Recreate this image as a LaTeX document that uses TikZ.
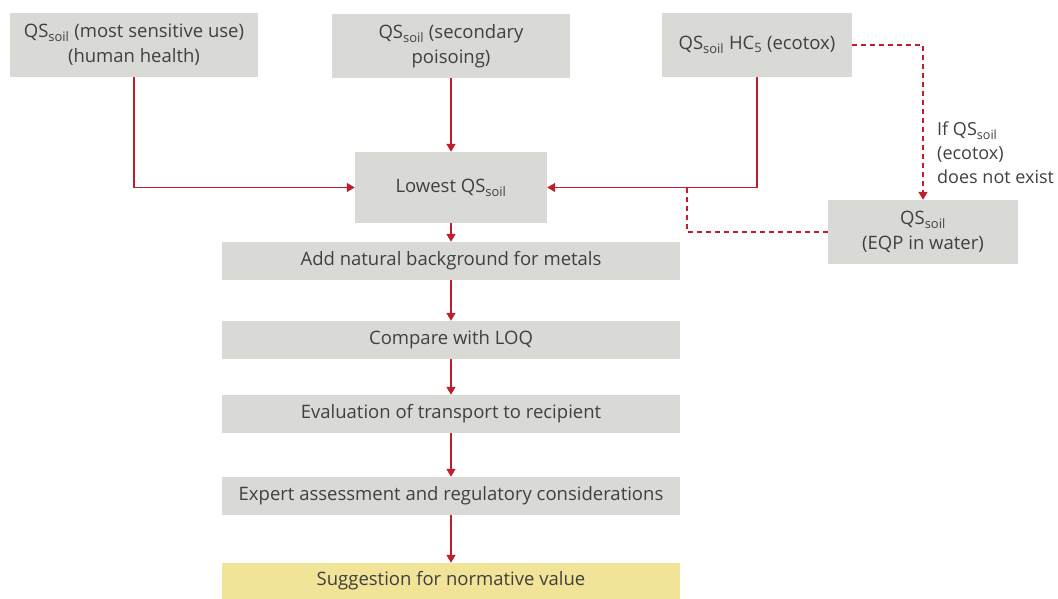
\documentclass[tikz,border=0pt]{standalone}
\usepackage{fontspec}
\setmainfont{Open Sans}
\usetikzlibrary{arrows.meta}
\definecolor{boxgray}{RGB}{217,217,214}
\definecolor{boxyellow}{RGB}{241,227,152}
\definecolor{arrowred}{RGB}{190,30,45}
\definecolor{textgray}{RGB}{64,64,64}
\newcommand{\qs}{QS\textsubscript{soil}}

\begin{document}
\begin{tikzpicture}[x=1pt,y=-1pt,
  box/.style={fill=boxgray,text=textgray,inner sep=0pt,align=center,font=\fontsize{18.5}{25}\selectfont},
  flow/.style={arrowred,line width=1.5pt,-{Triangle[length=8pt,width=9pt]}},
  alt/.style={flow,dashed,dash pattern=on 5pt off 4pt}]
\useasboundingbox (0,0) rectangle (1058,598);
\node [box,minimum width=248,minimum height=64] (hh) at (134,45) {\qs{} (most sensitive use)\\(human health)};
\node [box,minimum width=238,minimum height=64] (sp) at (451,46) {\qs{} (secondary\\poisoing)};
\node [box,minimum width=190,minimum height=64] (eco) at (757,45) {\qs{} HC\textsubscript{5} (ecotox)};
\node [box,minimum width=192,minimum height=71] (low) at (451,187.5) {Lowest \qs};
\node [box,minimum width=190,minimum height=64] (eqp) at (923,232) {\qs\\(EQP in water)};
\node [box,minimum width=458,minimum height=38] (bg) at (451,261) {Add natural background for metals};
\node [box,minimum width=458,minimum height=38] (loq) at (451,340) {Compare with LOQ};
\node [box,minimum width=458,minimum height=38] (tr) at (451,414) {Evaluation of transport to recipient};
\node [box,minimum width=458,minimum height=38] (ex) at (451,496) {Expert assessment and regulatory considerations};
\node [box,fill=boxyellow,minimum width=458,minimum height=36] (sug) at (451,581) {Suggestion for normative value};
\node [text=textgray,align=left,anchor=north west,inner sep=0pt,font=\fontsize{18}{24}\selectfont] (cond) at (937,122) {If \qs\\(ecotox)\\does not exist};
\coordinate (join) at (687,187.5);
\draw [flow] (hh.south) |- (low.west);
\draw [flow] (sp.south) -- (low.north);
\draw [flow] (eco.south) |- (low.east);
\draw [alt] (eco.east) -| (eqp.north);
\draw [alt,-] (eqp.west) -| (join);
\draw [flow] (low.south) -- (bg.north);
\draw [flow] (bg.south) -- (loq.north);
\draw [flow] (loq.south) -- (tr.north);
\draw [flow] (tr.south) -- (ex.north);
\draw [flow] (ex.south) -- (sug.north);
\end{tikzpicture}
\end{document}
